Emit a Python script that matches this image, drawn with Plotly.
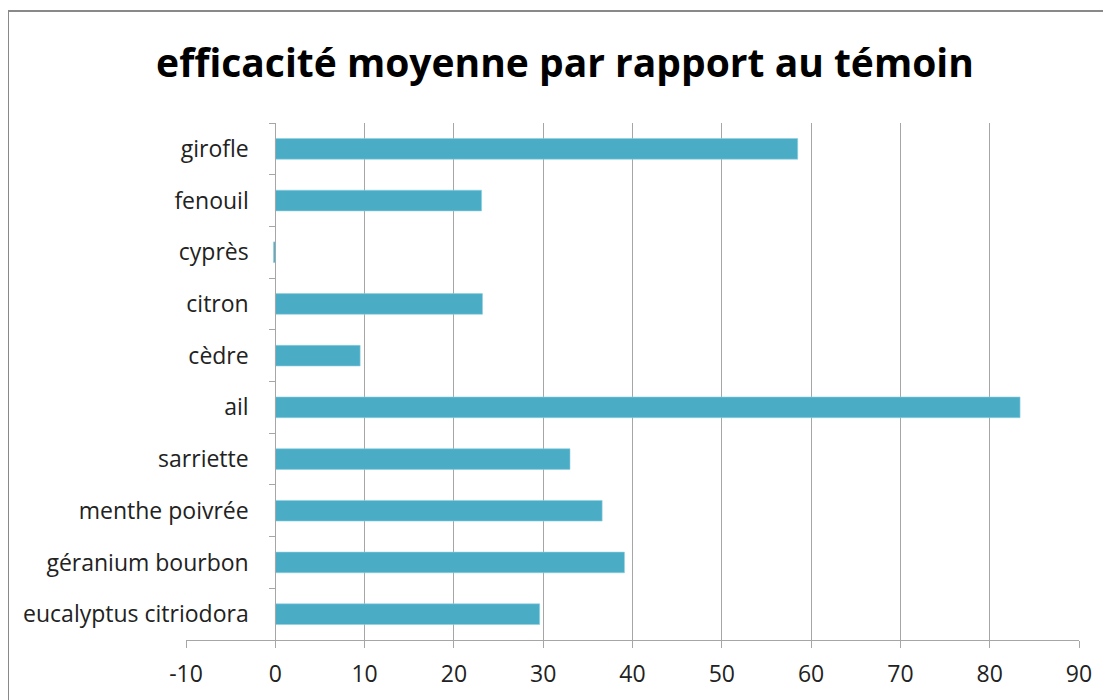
import plotly.graph_objects as go

categories = ["eucalyptus citriodora", "géranium bourbon", "menthe poivrée", "sarriette",
              "ail", "cèdre", "citron", "cyprès", "fenouil", "girofle"]
values = [29.6, 39.1, 36.6, 33.0, 83.4, 9.5, 23.2, -0.2, 23.1, 58.5]
x_ticks = [-10, 0, 10, 20, 30, 40, 50, 60, 70, 80, 90]
x_tick_labels = ["-10", "0", "10", "20", "30", "40", "50", "60", "70", "80", "90"]

FONT = "Open Sans"
BAR = "#4BACC6"
GRID = "#a6a6a6"

OFF = 8  # page body offset
W, H = 1111 - OFF, 700 - OFF
L, T = 186 - OFF, 123 - OFF
R = W - (1079 - OFF)
B = H - (640 - OFF)
pw, ph = W - L - R, H - T - B

def px_x(p):
    return (p - OFF - L) / pw

def px_y(p):
    return (H - B - (p - OFF)) / ph

fig = go.Figure(go.Bar(
    x=values, y=categories, orientation="h",
    marker=dict(color=BAR, line=dict(color="#8fd0e0", width=0.6)),
    width=0.4,
))

fig.update_layout(
    width=W, height=H,
    margin=dict(l=L, r=R, t=T, b=B),
    paper_bgcolor="white", plot_bgcolor="white",
    showlegend=False,
    title=dict(text="<b>efficacité moyenne par rapport au témoin</b>",
               x=(565 - OFF) / W, xanchor="center", y=1 - (63 - OFF) / H, yanchor="middle",
               font=dict(family=FONT, size=39, color="black")),
    xaxis=dict(range=[-10, 90], tickvals=x_ticks, ticktext=x_tick_labels,
               showgrid=True, gridcolor=GRID, gridwidth=1,
               zeroline=False, showline=True, linecolor=GRID, linewidth=1,
               ticks="outside", ticklen=7, tickcolor=GRID, ticklabelstandoff=6,
               tickfont=dict(family=FONT, size=23, color="#222"), automargin=False),
    yaxis=dict(type="category", categoryorder="array", categoryarray=categories,
               anchor="free", position=0.1, showline=True, linecolor=GRID, linewidth=1,
               ticks="outside", ticklen=6, tickcolor=GRID, tickson="boundaries",
               showgrid=False, ticklabelstandoff=22,
               tickfont=dict(family=FONT, size=23, color="#222"), automargin=False),
    shapes=[dict(type="rect", xref="paper", yref="paper",
                 x0=px_x(8), x1=px_x(1140), y0=px_y(730), y1=px_y(11),
                 line=dict(color="#898989", width=2), fillcolor="rgba(0,0,0,0)", layer="above")],
)

fig.write_html("out.html")
